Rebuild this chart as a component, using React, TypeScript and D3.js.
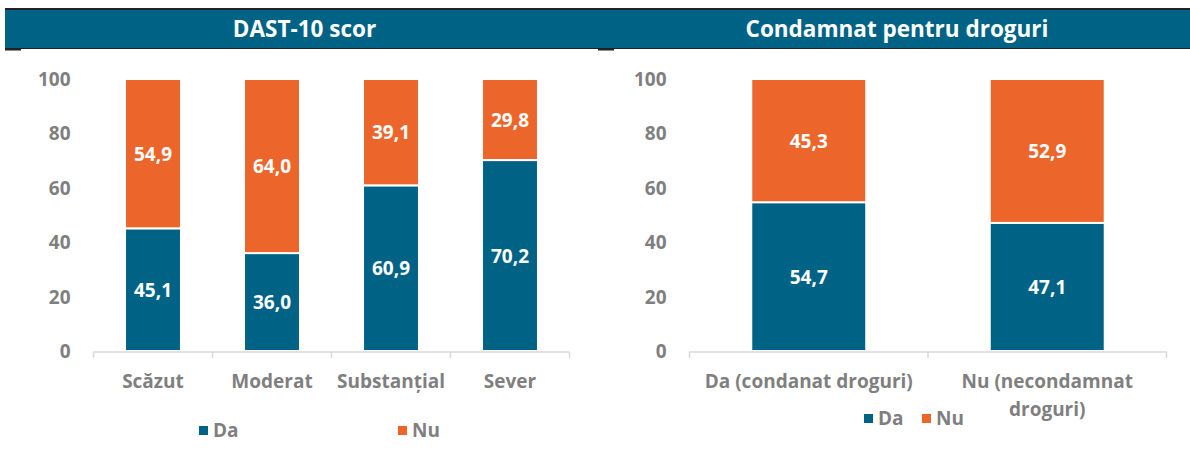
import React from 'react';
import * as d3 from 'd3';

const TEAL = '#006385';
const ORANGE = '#EC662B';
const GRAY = '#7f7f7f';
const FONT = '"Open Sans", "Noto Sans", sans-serif';

// left chart: DAST-10 scor
const dastCategories = ['Scăzut', 'Moderat', 'Substanțial', 'Sever'];
const dastDa = [45.1, 36.0, 60.9, 70.2];
const dastNu = [54.9, 64.0, 39.1, 29.8];

// right chart: Condamnat pentru droguri
const condCategories = [['Da (condanat droguri)'], ['Nu (necondamnat', 'droguri)']];
const condDa = [54.7, 47.1];
const condNu = [45.3, 52.9];

const yTicks = [0, 20, 40, 60, 80, 100];
const seriesNames = ['Da', 'Nu'];
const fmt = (v: number) => v.toFixed(1).replace('.', ',');

interface PanelProps {
  x0: number;
  x1: number;
  title: string;
  axisX: [number, number];
  labels: string[][];
  da: number[];
  nu: number[];
  pad: number;
  legendX: [number, number];
  legendY: number;
}

const Panel: React.FC<PanelProps> = ({ x0, x1, title, axisX, labels, da, nu, pad, legendX, legendY }) => {
  const y = d3.scaleLinear().domain([0, 100]).range([351, 79]);
  const x = d3.scaleBand<number>().domain(d3.range(labels.length)).range(axisX).paddingInner(pad).paddingOuter(pad / 2);
  const step = x.step();
  const stacked = d3.stack<number>().keys([0, 1]).value((i, k) => (k === 0 ? da[i] : nu[i]))(d3.range(labels.length));
  const colors = [TEAL, ORANGE];
  const cx = (i: number) => (x(i) as number) + x.bandwidth() / 2;
  return (
    <g>
      {/* title band */}
      <rect x={x0} y={8} width={x1 - x0} height={2} fill="#222" />
      <rect x={x0} y={10} width={x1 - x0} height={38} fill={TEAL} />
      <rect x={x0} y={48} width={x1 - x0} height={1} fill="#222" />
      <rect x={x0} y={48} width={16} height={2.5} fill="#222" />
      <text x={(x0 + x1) / 2 + 3} y={37} textAnchor="middle" fill="#fff" fontSize={22.5} fontWeight="bold">{title}</text>

      {/* y axis labels */}
      {yTicks.map(t => (
        <text key={t} x={axisX[0] - 23} y={y(t) + 7} textAnchor="end" fill={GRAY} fontSize={19} fontWeight="bold">{t}</text>
      ))}

      {/* bars */}
      {stacked.map((s, k) => s.map((d, i) => (
        <g key={`${k}-${i}`}>
          <rect x={x(i)} y={y(d[1])} width={x.bandwidth()} height={y(d[0]) - y(d[1])} fill={colors[k]} stroke="#fff" strokeWidth={2} />
          <text x={cx(i)} y={(y(d[0]) + y(d[1])) / 2 + 7} textAnchor="middle" fill="#fff" fontSize={19} fontWeight="bold">
            {fmt(d[1] - d[0])}
          </text>
        </g>
      )))}

      {/* x axis */}
      <line x1={axisX[0]} x2={axisX[1]} y1={352} y2={352} stroke="#d9d9d9" strokeWidth={1.5} />
      {d3.range(labels.length + 1).map(i => (
        <line key={i} x1={axisX[0] + i * step} x2={axisX[0] + i * step} y1={352} y2={358} stroke="#d9d9d9" strokeWidth={1.5} />
      ))}
      {labels.map((lines, i) => (
        <text key={i} x={cx(i)} y={388} textAnchor="middle" fill={GRAY} fontSize={19} fontWeight="bold">
          {lines.map((l, j) => <tspan key={j} x={cx(i)} dy={j === 0 ? 0 : 28}>{l}</tspan>)}
        </text>
      ))}

      {/* legend */}
      {seriesNames.map((n, k) => (
        <g key={n}>
          <rect x={legendX[k]} y={legendY - 11} width={9} height={9} fill={colors[k]} />
          <text x={legendX[k] + 14} y={legendY} fill={GRAY} fontSize={19} fontWeight="bold">{n}</text>
        </g>
      ))}
    </g>
  );
};

const App: React.FC = () => (
  <svg width={1190} height={450} style={{ position: 'absolute', left: 0, top: 0, fontFamily: FONT }}>
    <rect width={1190} height={450} fill="#fff" />
    <Panel x0={5} x1={598} title="DAST-10 scor" axisX={[93.5, 569.5]} labels={dastCategories.map(c => [c])}
      da={dastDa} nu={dastNu} pad={0.53} legendX={[199, 398]} legendY={437} />
    <Panel x0={598} x1={1190} title="Condamnat pentru droguri" axisX={[689.5, 1166.5]} labels={condCategories}
      da={condDa} nu={condNu} pad={0.518} legendX={[864, 922]} legendY={425} />
  </svg>
);

export default App;
